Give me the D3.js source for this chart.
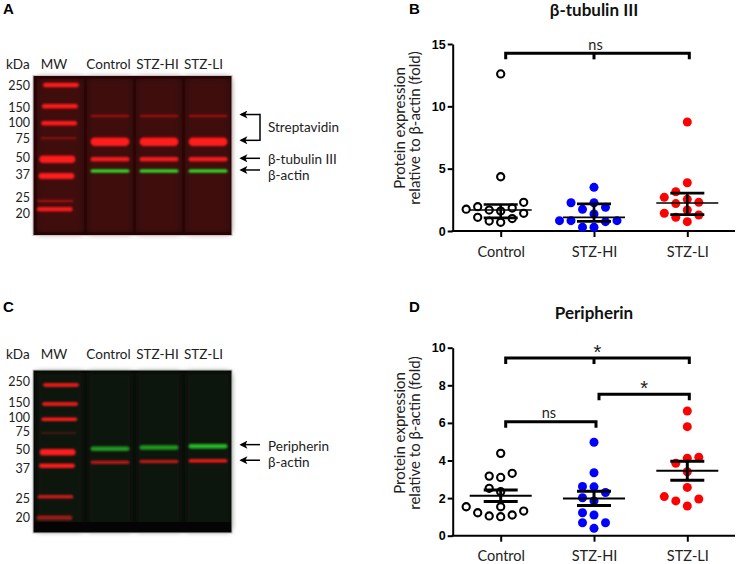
<!DOCTYPE html>
<html>
<head>
<meta charset="utf-8">
<script src="https://cdn.jsdelivr.net/npm/d3@7"></script>
<style>
  body { margin: 0; background: #fff; }
  svg { display: block; font-family: Lato, 'Open Sans', sans-serif; }
</style>
</head>
<body>
<svg id="fig" width="737" height="564"></svg>
<script>
// ---------------- data ----------------
const groups = ['Control', 'STZ-HI', 'STZ-LI'];

// B: beta-tubulin III / beta-actin (fold)
const tubulinControl = [12.6, 4.35, 2.3, 1.95, 1.84, 1.75, 1.68, 1.6, 1.42, 1.1, 1.0, 0.8, 0.7];
const tubulinHI = [3.5, 2.27, 2.27, 1.9, 1.74, 1.36, 0.83, 0.83, 0.83, 0.75, 0.3, 0.3];
const tubulinLI = [8.74, 3.87, 3.15, 2.7, 2.54, 2.3, 2.2, 1.68, 1.42, 1.28, 1.1, 0.75];
const tubulinTicks = [0, 5, 10, 15];
const tubulinBrackets = [['Control', 'STZ-LI', 'ns', 14.25]];

// D: peripherin / beta-actin (fold)
const periControl = [4.38, 3.32, 3.17, 3.1, 2.52, 2.34, 1.54, 1.54, 1.31, 1.22, 1.1, 1.05, 1.01];
const periHI = [4.97, 3.35, 2.62, 2.6, 2.3, 2.02, 1.85, 1.22, 1.1, 0.69, 0.69, 0.39];
const periLI = [6.63, 5.8, 4.17, 4.12, 3.85, 3.4, 2.57, 2.08, 1.95, 1.85, 1.58];
const periTicks = [0, 2, 4, 6, 8, 10];
const periBrackets = [
  ['Control', 'STZ-LI', '*', 9.45],
  ['STZ-HI', 'STZ-LI', '*', 7.53],
  ['Control', 'STZ-HI', 'ns', 6.06]
];

// blots
const lanes = ['MW', 'Control', 'STZ-HI', 'STZ-LI'];
const mwKDa = [250, 150, 100, 75, 50, 37, 25, 20];
const blotAKDa = [119, 70, 50, 40.5];
const blotAChannel = ['red', 'red', 'red', 'green'];
const blotAIntensity = [0.45, 1, 0.95, 1];
const blotCKDa = [54, 40];
const blotCChannel = ['green', 'red'];
const blotCIntensity = [0.75, 1];

const svg = d3.select('#fig');
const defs = svg.append('defs');
defs.append('filter').attr('id', 'blur').attr('x', '-20%').attr('y', '-200%')
    .attr('width', '140%').attr('height', '500%')
  .append('feGaussianBlur').attr('stdDeviation', 0.9);
defs.append('filter').attr('id', 'soft').attr('x', '-20%').attr('y', '-20%')
    .attr('width', '140%').attr('height', '140%')
  .append('feGaussianBlur').attr('stdDeviation', 3);
// arrow head pointing along the line direction
defs.append('marker').attr('id', 'arrow').attr('viewBox', '0 0 10 10')
    .attr('refX', 8).attr('refY', 5).attr('markerWidth', 9).attr('markerHeight', 8)
    .attr('markerUnits', 'userSpaceOnUse').attr('orient', 'auto')
  .append('path').attr('d', 'M0,0 L10,5 L0,10 L2.5,5 Z').attr('fill', '#000');

// panel letters
[['A', 3, 14], ['B', 409, 14], ['C', 3, 312], ['D', 409, 312]].forEach(([t, x, y]) => {
  svg.append('text').attr('x', x).attr('y', y)
    .attr('font-family', "'Liberation Sans', Arial, sans-serif")
    .attr('font-weight', 'bold').attr('font-size', 15).text(t);
});

// ---------------- blots ----------------
function drawBlot(o) {
  const g = svg.append('g');
  const anchors = mwKDa.filter(k => k !== 150 && k !== 75);
  const y = d3.scaleLog().domain(anchors).range(o.anchorY);
  const x = d3.scalePoint().domain(lanes).range([61, 208]);
  const colors = { red: '#ff1c1c', green: '#2ef02e' };

  g.append('rect').attr('x', 33).attr('y', o.top).attr('width', 199).attr('height', o.bottom - o.top)
    .attr('fill', o.bg);
  const lg = g.append('g').attr('filter', 'url(#soft)');
  lanes.forEach((l, i) => {
    lg.append('rect').attr('x', x(l) - (i === 0 ? 24 : 22)).attr('y', o.top + 3)
      .attr('width', i === 0 ? 46 : 44).attr('height', o.bottom - o.top - 6)
      .attr('fill', o.laneBg);
  });
  if (o.bottomStrip) {
    g.append('rect').attr('x', 33).attr('y', o.bottom - 11).attr('width', 199).attr('height', 11)
      .attr('fill', '#040404');
  }

  const bg = g.append('g').attr('filter', 'url(#blur)');
  // marker ladder
  mwKDa.forEach(k => {
    const yy = y(k);
    const shift = -(yy - y(250)) * 0.05;
    const h = o.mwHeight[k];
    bg.append('rect')
      .attr('x', x('MW') - 18 + shift).attr('y', yy - h / 2)
      .attr('width', 36).attr('height', h).attr('rx', h / 2)
      .attr('fill', colors.red).attr('opacity', o.mwOpacity[k]);
  });
  // sample bands
  lanes.slice(1).forEach((l, li) => {
    o.kDa.forEach((k, i) => {
      const h = o.bandHeight[i];
      const lift = o.channel[i] === 'green' ? li * o.tilt : li * o.tilt * 0.6;
      bg.append('rect')
        .attr('x', x(l) - 19.5).attr('y', y(k) - h / 2 - lift)
        .attr('width', 39).attr('height', h).attr('rx', h / 2)
        .attr('fill', colors[o.channel[i]])
        .attr('opacity', o.intensity[i] * (o.laneGain ? o.laneGain[li] : 1));
    });
  });
  g.append('rect').attr('x', 33).attr('y', o.top).attr('width', 199).attr('height', o.bottom - o.top)
    .attr('fill', 'none').attr('stroke', '#c8c8c8').attr('stroke-width', 1);

  // labels
  const fs = 13.5, fill = '#222';
  const laneShift = [7, 1.5, 1.5, 4.5];
  g.append('text').attr('x', 6).attr('y', o.labelY).attr('font-size', fs).attr('fill', fill).text('kDa');
  lanes.forEach((l, i) => {
    g.append('text').attr('x', x(l) - laneShift[i]).attr('y', o.labelY)
      .attr('text-anchor', 'middle').attr('font-size', fs).attr('fill', fill).text(l);
  });
  mwKDa.forEach(k => {
    g.append('text').attr('x', 30).attr('y', y(k) + (o.numNudge[k] || 0)).attr('dy', '0.36em')
      .attr('text-anchor', 'end').attr('font-size', 12.5).attr('fill', fill).text(k);
  });

  // arrows
  o.arrows.forEach(a => {
    const ys = a.kDa.map(k => y(k) + a.dy);
    ys.forEach(yy => {
      g.append('line').attr('x1', 260).attr('x2', 241).attr('y1', yy).attr('y2', yy)
        .attr('stroke', '#000').attr('stroke-width', 1.5).attr('marker-end', 'url(#arrow)');
    });
    if (ys.length > 1) {
      g.append('line').attr('x1', 260).attr('x2', 260).attr('y1', ys[0] - 0.75).attr('y2', ys[1] + 0.75)
        .attr('stroke', '#000').attr('stroke-width', 1.5);
    }
    g.append('text').attr('x', 268).attr('y', d3.mean(ys) + a.textDy).attr('dy', '0.36em')
      .attr('font-size', 13.5).attr('fill', fill).text(a.label);
  });
}

drawBlot({
  top: 75.5, bottom: 235.5, labelY: 69, bg: '#220404', laneBg: '#3f0909',
  anchorY: [85, 123.3, 159.3, 176, 201, 209.3],
  numNudge: { 150: 1, 100: -1, 50: -1.5, 37: -2, 25: -3.5, 20: 4 },
  mwHeight: { 250: 4.5, 150: 4.5, 100: 4.5, 75: 2, 50: 7.5, 37: 6, 25: 2.5, 20: 4.5 },
  mwOpacity: { 250: 1, 150: 1, 100: 1, 75: 0.4, 50: 1, 37: 1, 25: 0.5, 20: 0.95 },
  kDa: blotAKDa, channel: blotAChannel, intensity: blotAIntensity,
  bandHeight: [2.5, 8.5, 4.5, 3.2], tilt: 0,
  arrows: [
    { kDa: [blotAKDa[0], blotAKDa[1]], label: 'Streptavidin', dy: -1.5, textDy: 0 },
    { kDa: [blotAKDa[2]], label: 'β-tubulin III', dy: -1, textDy: 0.5 },
    { kDa: [blotAKDa[3]], label: 'β-actin', dy: -1, textDy: 5.5 }
  ]
});

drawBlot({
  top: 370, bottom: 533, labelY: 359, bg: '#080b07', laneBg: '#0e130c', bottomStrip: true,
  anchorY: [385, 419.3, 452.3, 465.7, 496.7, 517.7],
  numNudge: { 250: -4, 150: -2, 100: -2, 75: -1, 50: -2.5, 37: 2.5, 25: 2 },
  mwHeight: { 250: 3.5, 150: 3.5, 100: 3.5, 75: 1.5, 50: 6.5, 37: 4.5, 25: 3, 20: 4.5 },
  mwOpacity: { 250: 1, 150: 1, 100: 1, 75: 0.3, 50: 1, 37: 1, 25: 0.9, 20: 0.6 },
  kDa: blotCKDa, channel: blotCChannel, intensity: blotCIntensity,
  laneGain: [0.8, 0.8, 1], bandHeight: [4.5, 3.2], tilt: 1.2,
  arrows: [
    { kDa: [blotCKDa[0]], label: 'Peripherin', dy: -4, textDy: 1.5 },
    { kDa: [blotCKDa[1]], label: 'β-actin', dy: -2, textDy: 2 }
  ]
});

// ---------------- scatter panels ----------------
// GraphPad-style quartile ((n+1) basis)
function quartile(vals, p) {
  const s = vals.slice().sort((a, b) => a - b);
  const pos = p * (s.length + 1) - 1;
  const lo = Math.max(0, Math.floor(pos)), hi = Math.min(s.length - 1, lo + 1);
  return s[lo] + (pos - lo) * (s[hi] - s[lo]);
}

function swarm(values, y, cx, step, minDist) {
  const placed = [];
  values.slice().sort((a, b) => a - b).forEach(v => {
    const py = y(v);
    for (let k = 0; k < 20; k++) {
      const cands = k === 0 ? [0] : [-k * step, k * step];
      const ok = cands.find(dx => placed.every(p => Math.hypot(p.px - (cx + dx), p.py - py) >= minDist));
      if (ok !== undefined) { placed.push({ v, px: cx + ok, py }); break; }
    }
  });
  return placed;
}

const dotStyle = [
  { fill: '#fff', stroke: '#000', sw: 2.1, r: 3.6 },
  { fill: '#0000ff', stroke: 'none', sw: 0, r: 4.5 },
  { fill: '#ff0000', stroke: 'none', sw: 0, r: 4.5 }
];

function drawScatter(o) {
  const g = svg.append('g');
  const x = d3.scalePoint().domain(groups).range([500.7, 687.3]);
  const y = d3.scaleLinear().domain([0, d3.max(o.ticks)]).range(o.yRange);
  const axisX = 452.7;

  // title
  g.append('text').attr('x', 594).attr('y', o.titleY).attr('text-anchor', 'middle')
    .attr('font-weight', 'bold').attr('font-size', 17).attr('fill', '#111').text(o.title);

  // y axis
  const ya = g.append('g').attr('transform', `translate(${axisX},0)`)
    .call(d3.axisLeft(y).tickValues(o.ticks).tickSize(5).tickSizeOuter(0).tickPadding(2));
  ya.select('.domain').attr('stroke-width', 2);
  ya.selectAll('.tick line').attr('stroke-width', 2);
  ya.selectAll('.tick text').attr('font-family', "'Liberation Sans', Arial, sans-serif")
    .attr('font-weight', 'bold').attr('font-size', 12.5).attr('fill', '#000');

  // x axis
  g.append('line').attr('x1', axisX - 1).attr('x2', 735).attr('y1', y(0)).attr('y2', y(0))
    .attr('stroke', '#000').attr('stroke-width', 2);
  const xa = g.append('g').attr('transform', `translate(0,${y(0)})`)
    .call(d3.axisBottom(x).tickSize(6).tickSizeOuter(0).tickPadding(o.xPad));
  xa.select('.domain').remove();
  xa.selectAll('.tick line').attr('stroke-width', 2);
  xa.selectAll('.tick text').attr('font-family', "Lato, 'Open Sans', sans-serif")
    .attr('font-size', 14.5).attr('fill', '#222');

  // y title
  const yt = g.append('g').attr('transform', `translate(407.5,${o.yTitleC}) rotate(-90)`)
    .attr('font-size', 15).attr('fill', '#222').attr('text-anchor', 'middle');
  yt.append('text').attr('y', -7.5).attr('dy', '0.35em').text('Protein expression');
  yt.append('text').attr('y', 7.5).attr('dy', '0.35em').text('relative to β-actin (fold)');

  // points
  o.series.forEach((vals, i) => {
    const st = dotStyle[i];
    g.append('g').selectAll('circle')
      .data(swarm(vals, y, x(groups[i]), 11.5, 9.4))
      .join('circle')
        .attr('cx', d => d.px).attr('cy', d => d.py).attr('r', st.r)
        .attr('fill', st.fill).attr('stroke', st.stroke).attr('stroke-width', st.sw);
  });

  // center line and error bars
  o.series.forEach((vals, i) => {
    let c, lo, hi;
    if (o.stat === 'median') {
      c = quartile(vals, 0.5); lo = quartile(vals, 0.25); hi = quartile(vals, 0.75);
    } else {
      c = d3.mean(vals);
      const sem = d3.deviation(vals) / Math.sqrt(vals.length);
      lo = c - sem; hi = c + sem;
    }
    const cx = x(groups[i]);
    g.append('line').attr('x1', cx - 31).attr('x2', cx + 31).attr('y1', y(c)).attr('y2', y(c))
      .attr('stroke', '#000').attr('stroke-width', o.centerW);
    g.append('line').attr('x1', cx).attr('x2', cx).attr('y1', y(lo)).attr('y2', y(hi))
      .attr('stroke', '#000').attr('stroke-width', o.capW);
    [lo, hi].forEach(v => {
      g.append('line').attr('x1', cx - 17).attr('x2', cx + 17).attr('y1', y(v)).attr('y2', y(v))
        .attr('stroke', '#000').attr('stroke-width', o.capW);
    });
  });

  // significance brackets
  o.brackets.forEach(([a, b, label, v]) => {
    const x1 = x(a) + 5, x2 = x(b) + 2, yt0 = y(v), ye = yt0 + 6;
    g.append('path').attr('d', `M${x1},${ye}V${yt0}H${x2}V${ye}`)
      .attr('fill', 'none').attr('stroke', '#000').attr('stroke-width', 3).attr('stroke-linejoin', 'miter');
    groups.filter(gr => x(gr) > x(a) && x(gr) < x(b)).forEach(gr => {
      g.append('line').attr('x1', x(gr)).attr('x2', x(gr)).attr('y1', yt0).attr('y2', ye)
        .attr('stroke', '#000').attr('stroke-width', 3);
    });
    const star = label === '*';
    g.append('text').attr('x', (x1 + x2) / 2 + (star ? 0 : -2))
      .attr('y', yt0 - (star ? -1 : 3.5))
      .attr('text-anchor', 'middle').attr('font-size', star ? 20 : 14.5)
      .attr('font-family', star ? "'Liberation Sans', Arial, sans-serif" : "Lato, sans-serif")
      .attr('fill', '#222').text(label);
  });
}

drawScatter({
  title: 'β-tubulin III', titleY: 16, ticks: tubulinTicks, yRange: [231, 44],
  series: [tubulinControl, tubulinHI, tubulinLI], stat: 'median',
  brackets: tubulinBrackets, yTitleC: 128, xPad: 9.5, centerW: 1.6, capW: 2.6
});

drawScatter({
  title: 'Peripherin', titleY: 319, ticks: periTicks, yRange: [535.7, 347.7],
  series: [periControl, periHI, periLI], stat: 'mean',
  brackets: periBrackets, yTitleC: 433, xPad: 9, centerW: 2, capW: 3
});
</script>
</body>
</html>
